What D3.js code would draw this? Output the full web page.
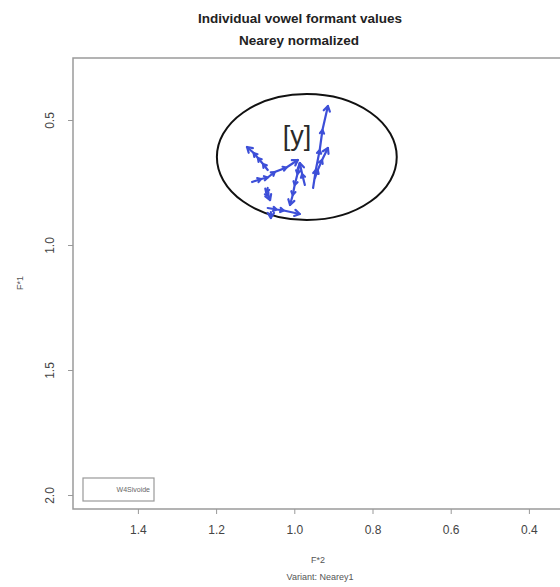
<!DOCTYPE html>
<html>
<head>
<meta charset="utf-8">
<script src="https://cdn.jsdelivr.net/npm/d3@7"></script>
<style>
	body { margin: 0; background: #fff; }
	text { font-family: "Liberation Sans", Arial, sans-serif; }
</style>
</head>
<body>
<div id="chart"></div>
<script>

// tick values
const xTicks = [1.4, 1.2, 1.0, 0.8, 0.6, 0.4];
const yTicks = [0.5, 1.0, 1.5, 2.0];

// vowel trajectories [y] (F*2, F*1), one arrow per segment
const tokF2 = [
	[1.068, 1.080, 1.093, 1.104, 1.121],
	[1.108, 1.085, 1.068, 1.050, 1.020, 0.991],
	[0.986, 0.992, 0.999, 1.004, 1.011],
	[1.068, 1.072, 1.066, 1.062],
	[1.068, 1.045, 1.027, 0.986],
	[0.952, 0.945, 0.935, 0.928, 0.914],
	[0.947, 0.940, 0.929, 0.914],
	[0.973, 0.980, 0.986],
	[1.060, 1.060]
];
const tokF1 = [
	[0.700, 0.676, 0.652, 0.632, 0.608],
	[0.748, 0.736, 0.730, 0.708, 0.690, 0.660],
	[0.672, 0.716, 0.760, 0.800, 0.840],
	[0.772, 0.790, 0.804, 0.820],
	[0.852, 0.858, 0.862, 0.876],
	[0.772, 0.700, 0.620, 0.540, 0.444],
	[0.732, 0.700, 0.660, 0.612],
	[0.760, 0.716, 0.672],
	[0.868, 0.892]
];

// ellipse for the vowel [y]
const ellCenter = [0.968, 0.648];
const ellRadius = [0.230, 0.252];

const width = 560;
const height = 587;

let svg = d3.select("#chart")
	.append("svg")
	.attr("width", width)
	.attr("height", height);

let x = d3.scaleLinear()
	.domain([1.566, 0.28])
	.range([73, 73 + 1.286 * 391]);

let y = d3.scaleLinear()
	.domain([0.252, 2.056])
	.range([58, 509]);

// plot box
svg.append("rect")
	.attr("x", x(1.566))
	.attr("y", y(0.252))
	.attr("width", x(0.28) - x(1.566))
	.attr("height", y(2.056) - y(0.252))
	.attr("fill", "none")
	.attr("stroke", "#9a9a9a")
	.attr("stroke-width", 1.5);

// x axis
let xAxis = svg.append("g")
	.attr("transform", "translate(0," + y(2.056) + ")")
	.call(d3.axisBottom(x).tickValues(xTicks).tickSize(5).tickPadding(11).tickFormat(d3.format(".1f")));
xAxis.select(".domain").remove();
xAxis.selectAll("line").attr("stroke", "#999");
xAxis.selectAll("text")
	.attr("fill", "#444")
	.attr("font-size", 12)
	.attr("font-family", "Liberation Sans, Arial, sans-serif");

// y axis
let yAxis = svg.append("g")
	.attr("transform", "translate(" + x(1.566) + ",0)")
	.call(d3.axisLeft(y).tickValues(yTicks).tickSize(5).tickFormat(d3.format(".1f")));
yAxis.select(".domain").remove();
yAxis.selectAll("line").attr("stroke", "#999");
yAxis.selectAll("text")
	.attr("x", null)
	.attr("dy", null)
	.attr("text-anchor", "middle")
	.attr("transform", "translate(-19,0) rotate(-90)")
	.attr("fill", "#444")
	.attr("font-size", 12)
	.attr("font-family", "Liberation Sans, Arial, sans-serif");

// titles
svg.append("text")
	.attr("x", 300)
	.attr("y", 23)
	.attr("text-anchor", "middle")
	.attr("font-weight", "bold")
	.attr("font-size", 13.5)
	.attr("fill", "#222")
	.text("Individual vowel formant values");

svg.append("text")
	.attr("x", 299)
	.attr("y", 45)
	.attr("text-anchor", "middle")
	.attr("font-weight", "bold")
	.attr("font-size", 13.5)
	.attr("fill", "#222")
	.text("Nearey normalized");

svg.append("text")
	.attr("x", 318)
	.attr("y", 563)
	.attr("text-anchor", "middle")
	.attr("font-size", 9)
	.attr("fill", "#555")
	.text("F*2");

svg.append("text")
	.attr("x", 320)
	.attr("y", 580)
	.attr("text-anchor", "middle")
	.attr("font-size", 9)
	.attr("fill", "#555")
	.text("Variant: Nearey1");

svg.append("text")
	.attr("transform", "translate(23,283) rotate(-90)")
	.attr("text-anchor", "middle")
	.attr("font-size", 9)
	.attr("fill", "#555")
	.text("F*1");

// legend
svg.append("rect")
	.attr("x", 83)
	.attr("y", 478)
	.attr("width", 71)
	.attr("height", 23)
	.attr("fill", "#fff")
	.attr("stroke", "#999")
	.attr("stroke-width", 1.2);

svg.append("text")
	.attr("x", 150)
	.attr("y", 492)
	.attr("text-anchor", "end")
	.attr("font-size", 7)
	.attr("fill", "#666")
	.text("W4Sivoide");

// ellipse
svg.append("ellipse")
	.attr("cx", x(ellCenter[0]))
	.attr("cy", y(ellCenter[1]))
	.attr("rx", x(ellCenter[0] - ellRadius[0]) - x(ellCenter[0]))
	.attr("ry", y(ellCenter[1] + ellRadius[1]) - y(ellCenter[1]))
	.attr("fill", "none")
	.attr("stroke", "#111")
	.attr("stroke-width", 2);

// label
svg.append("text")
	.attr("x", 297)
	.attr("y", 145)
	.attr("text-anchor", "middle")
	.attr("font-size", 27)
	.attr("font-family", "Open Sans, sans-serif")
	.attr("fill", "#2a2a2a")
	.text("[y]");

// trajectories
let line = d3.line()
	.x(d => x(d[0]))
	.y(d => y(d[1]));

let arrows = svg.append("g")
	.attr("class", "arrows");

function arrowHead(a, b, len){
	let ang = Math.atan2(y(b[1]) - y(a[1]), x(b[0]) - x(a[0]));
	let bx = x(b[0]), by = y(b[1]);
	let head = [
		[bx - len * Math.cos(ang - 0.55), by - len * Math.sin(ang - 0.55)],
		[bx, by],
		[bx - len * Math.cos(ang + 0.55), by - len * Math.sin(ang + 0.55)]
	];
	arrows.append("path")
		.attr("d", d3.line()(head))
		.attr("fill", "none")
		.attr("stroke", "#3d4fd8")
		.attr("stroke-width", 2.2)
		.attr("stroke-linejoin", "round")
		.attr("stroke-linecap", "round");
}

tokF2.forEach((f2, i) => {
	let pts = f2.map((v, j) => [v, tokF1[i][j]]);

	arrows.append("path")
		.attr("d", line(pts))
		.attr("fill", "none")
		.attr("stroke", "#3d4fd8")
		.attr("stroke-width", 2.2)
		.attr("stroke-linecap", "round");

	for(let j = 1; j < pts.length; j++){
		arrowHead(pts[j-1], pts[j], j == pts.length - 1 ? 6 : 4);
	}
});

</script>
</body>
</html>
